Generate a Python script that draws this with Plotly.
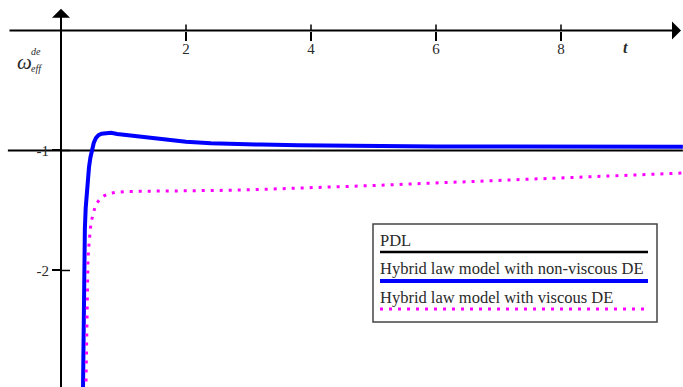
import plotly.graph_objects as go

# ---- data -------------------------------------------------------------
# PDL reference value (constant equation of state)
pdl_t = [-0.85, 9.95]
pdl_w = [-1.0, -1.0]

# Hybrid law model with non-viscous DE
hyb_t = [0.352, 0.358, 0.364, 0.372, 0.382, 0.395, 0.410, 0.428, 0.448, 0.470,
         0.495, 0.525, 0.560, 0.600, 0.650, 0.720, 0.800, 0.900, 1.00, 1.20,
         1.40, 1.70, 2.00, 2.40, 2.80, 3.20, 3.80, 4.40, 5.00, 6.00, 7.00,
         8.00, 9.00, 9.95]
hyb_w = [-3.00, -2.55, -2.10, -1.85, -1.65, -1.48, -1.35, -1.24, -1.14, -1.06,
         -0.99, -0.935, -0.895, -0.872, -0.860, -0.854, -0.853, -0.862, -0.868, -0.879,
         -0.893, -0.910, -0.927, -0.940, -0.947, -0.951, -0.956, -0.961, -0.964, -0.966, -0.967,
         -0.968, -0.968, -0.969]

# Hybrid law model with viscous DE
visc_t = [0.398, 0.405, 0.412, 0.420, 0.430, 0.440, 0.455, 0.470, 0.490, 0.510,
          0.540, 0.580, 0.630, 0.690, 0.780, 0.900, 1.05, 1.30, 1.60, 2.00,
          2.50, 3.00, 3.50, 4.00, 4.50, 5.00, 5.50, 6.00, 6.50, 7.00,
          7.50, 8.00, 8.50, 9.00, 9.50, 9.95]
visc_w = [-3.00, -2.70, -2.40, -2.15, -1.95, -1.83, -1.72, -1.65, -1.58, -1.53,
          -1.48, -1.435, -1.400, -1.378, -1.358, -1.347, -1.342, -1.340, -1.339, -1.337,
          -1.333, -1.328, -1.320, -1.312, -1.302, -1.292, -1.281, -1.270, -1.259, -1.248,
          -1.237, -1.226, -1.216, -1.206, -1.196, -1.188]

x_ticks = [2, 4, 6, 8]
y_ticks = [-1, -2]
y_tick_text = ["-1", "-2"]

legend_names = ["PDL",
                "Hybrid law model with non-viscous DE",
                "Hybrid law model with viscous DE"]

# ---- geometry ----------------------------------------------------------
W, H = 683, 387
X_RANGE = [-0.976, 9.952]
Y_RANGE = [-2.971, 0.254]
AXIS_LEFT = -0.848
Y_ARROW_TOP = 0.181

def xf(px):
    return px / W

def yf(py):
    return 1 - py / H

SERIF = "Liberation Serif, Times New Roman, serif"
TXT = "#2a2a2a"

fig = go.Figure()

fig.add_trace(go.Scatter(x=pdl_t, y=pdl_w, mode="lines",
                         line=dict(color="black", width=2), name=legend_names[0]))
fig.add_trace(go.Scatter(x=hyb_t, y=hyb_w, mode="lines",
                         line=dict(color="#0000ff", width=4), name=legend_names[1]))
fig.add_trace(go.Scatter(x=visc_t, y=visc_w, mode="lines",
                         line=dict(color="#ff00ff", width=3, dash="3px,6px"),
                         name=legend_names[2]))

shapes = []
annotations = []

# axis arrows (horizontal t-axis and vertical w-axis)
annotations.append(dict(x=9.92, y=0, ax=AXIS_LEFT, ay=0, axref="x", ayref="y",
                        xref="x", yref="y", text="", showarrow=True,
                        arrowhead=1, arrowsize=1.5, arrowwidth=2, arrowcolor="black"))
annotations.append(dict(x=0, y=Y_ARROW_TOP, ax=0, ay=Y_RANGE[0] - 0.05,
                        axref="x", ayref="y", xref="x", yref="y", text="",
                        showarrow=True, arrowhead=1, arrowsize=1.5, arrowwidth=2,
                        arrowcolor="black"))

# upper half of the t-axis tick crosses and right half of the w-axis ticks
for v in x_ticks:
    shapes.append(dict(type="line", xref="x", yref="y", x0=v, x1=v,
                       y0=0, y1=6 / 120, line=dict(color="black", width=1.5)))
for v in y_ticks:
    shapes.append(dict(type="line", xref="x", yref="y", x0=0, x1=9 / 62.5,
                       y0=v, y1=v, line=dict(color="black", width=1.5)))

# axis titles
def label(px, py, text, size):
    annotations.append(dict(x=xf(px), y=yf(py), xref="paper", yref="paper",
                            xanchor="center", yanchor="middle",
                            text=text, showarrow=False,
                            font=dict(family=SERIF, size=size, color=TXT)))

label(24, 62, "<i>ω</i>", 21)
label(36, 52, "<i>de</i>", 10)
label(36, 68, "<i>eff</i>", 10)
label(625, 47, "<b><i>t</i></b>", 16)

# legend box
shapes.append(dict(type="rect", xref="paper", yref="paper",
                   x0=xf(373), x1=xf(657), y0=yf(224), y1=yf(322),
                   line=dict(color="#444444", width=1.5), fillcolor="white",
                   layer="above"))
leg_text_y = [240, 268, 297]
leg_line_y = [252, 281, 309]
leg_lines = [dict(color="black", width=2.5),
             dict(color="#0000ff", width=4),
             dict(color="#ff00ff", width=3, dash="3px,6px")]
for name, ty, ly, ln in zip(legend_names, leg_text_y, leg_line_y, leg_lines):
    annotations.append(dict(x=xf(378), y=yf(ty), xref="paper", yref="paper",
                            xanchor="left", yanchor="middle", text=name,
                            showarrow=False,
                            font=dict(family=SERIF, size=16.5, color=TXT)))
    shapes.append(dict(type="line", xref="paper", yref="paper",
                       x0=xf(380), x1=xf(648), y0=yf(ly), y1=yf(ly),
                       line=ln, layer="above"))

fig.update_layout(
    width=W, height=H,
    margin=dict(l=0, r=0, t=0, b=0),
    paper_bgcolor="white", plot_bgcolor="white",
    showlegend=False,
    shapes=shapes, annotations=annotations,
    xaxis=dict(range=X_RANGE, showgrid=False, zeroline=False, showline=False,
               anchor="free", position=1 - 30.5 / H,
               tickvals=x_ticks, ticks="outside", ticklen=9, tickwidth=1.5,
               tickcolor="black", ticklabelstandoff=-5,
               tickfont=dict(family=SERIF, size=15, color=TXT)),
    yaxis=dict(range=Y_RANGE, showgrid=False, zeroline=False, showline=False,
               anchor="free", position=61 / W,
               tickvals=y_ticks, ticktext=y_tick_text, ticks="outside",
               ticklen=9, tickwidth=1.5, tickcolor="black",
               tickfont=dict(family=SERIF, size=15, color=TXT)),
)

fig.write_html("out.html")
